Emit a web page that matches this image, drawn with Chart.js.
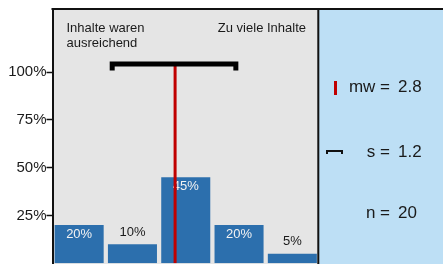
<!DOCTYPE html>
<html>
<head>
<meta charset="utf-8">
<script src="https://cdn.jsdelivr.net/npm/chart.js@4/dist/chart.umd.min.js"></script>
<style>
  body { margin: 0; background: #fff; }
  canvas { display: block; }
</style>
</head>
<body>
<canvas id="chart" width="443" height="264"></canvas>
<script>
// Antwortstufen 1..5, von "ausreichend" bis "zu viele Inhalte"
const categories = [1, 2, 3, 4, 5];
const shares = [20, 10, 45, 20, 5];      // Prozent
const yTicks = [25, 50, 75, 100];
const yMax = 133;

// Kennwerte
const meanValue = 2.8;
const sdSpan = [1.62, 3.94];             // Klammer mw ± s (aus dem Bild gelesen)
const bracketY = [100.8, 104.2];
const statLabels = ["mw =", "s =", "n ="];
const statValues = ["2.8", "1.2", "20"];
const leftLabel = ["Inhalte waren", "ausreichend"];
const rightLabel = "Zu viele Inhalte";

const FONT = "'Liberation Sans', Arial, sans-serif";

// Hintergrund: graue Plotfläche + blaues Kennwerte-Feld
const frame = {
  id: "frame",
  beforeDraw(chart) {
    const { ctx, chartArea: a, width, height } = chart;
    ctx.save();
    ctx.fillStyle = "#fff";
    ctx.fillRect(0, 0, width, height);
    ctx.fillStyle = "#e5e5e5";
    ctx.fillRect(a.left, a.top, a.right - a.left, height - a.top);
    ctx.fillStyle = "#bddff5";
    ctx.fillRect(a.right, a.top, width - a.right, height - a.top);
    ctx.restore();
  },
  afterDraw(chart) {
    const { ctx, chartArea: a, width, height } = chart;
    ctx.save();
    // Rahmen oben + Trennlinie zum Feld
    ctx.strokeStyle = "#111";
    ctx.lineWidth = 2;
    ctx.beginPath();
    ctx.moveTo(a.left - 1, a.top);
    ctx.lineTo(width, a.top);
    ctx.moveTo(a.right - 0.7, a.top);
    ctx.lineTo(a.right - 0.7, height);
    ctx.stroke();

    // Skalenbeschriftung
    ctx.fillStyle = "#1a1a1a";
    ctx.font = "13px " + FONT;
    ctx.textBaseline = "middle";
    ctx.textAlign = "left";
    ctx.fillText(leftLabel[0], a.left + 14, a.top + 19);
    ctx.fillText(leftLabel[1], a.left + 14, a.top + 34);
    ctx.textAlign = "right";
    ctx.fillText(rightLabel, a.right - 13, a.top + 19);

    // Kennwerte
    const rows = [87, 152, 213];
    ctx.font = "17px " + FONT;
    rows.forEach((y, i) => {
      ctx.textAlign = "right";
      ctx.fillText(statLabels[i], a.right + 71, y);
      ctx.textAlign = "left";
      ctx.fillText(statValues[i], a.right + 79, y);
    });

    // Legendensymbole
    ctx.strokeStyle = "#c00000";
    ctx.lineWidth = 3;
    ctx.beginPath();
    ctx.moveTo(a.right + 16.5, 81);
    ctx.lineTo(a.right + 16.5, 95);
    ctx.stroke();
    ctx.strokeStyle = "#111";
    ctx.lineWidth = 2;
    ctx.beginPath();
    ctx.moveTo(a.right + 8, 154);
    ctx.lineTo(a.right + 8, 151);
    ctx.lineTo(a.right + 23, 151);
    ctx.lineTo(a.right + 23, 154);
    ctx.stroke();
    ctx.restore();
  }
};

// Prozentwerte an den Balken
const barLabels = {
  id: "barLabels",
  afterDatasetDraw(chart, args) {
    if (args.index !== 0) return;
    const ctx = chart.ctx;
    ctx.save();
    ctx.font = "13px " + FONT;
    ctx.textAlign = "center";
    ctx.textBaseline = "middle";
    args.meta.data.forEach((bar, i) => {
      const inside = shares[i] >= 15;
      ctx.fillStyle = inside ? "#f2f2f2" : "#1a1a1a";
      ctx.fillText(shares[i] + "%", bar.x, inside ? bar.y + 9 : bar.y - 12);
    });
    ctx.restore();
  }
};

new Chart(document.getElementById("chart"), {
  type: "bar",
  data: {
    datasets: [
      {
        data: categories.map((c, i) => ({ x: c, y: shares[i] })),
        backgroundColor: "#2c6fad",
        grouped: false,
        barPercentage: 0.92,
        categoryPercentage: 1.0,
        order: 3
      },
      {
        type: "line",
        data: [{ x: meanValue, y: 0 }, { x: meanValue, y: bracketY[1] }],
        borderColor: "#c00000",
        borderWidth: 3,
        pointRadius: 0,
        order: 2
      },
      {
        type: "line",
        data: [
          { x: sdSpan[0], y: bracketY[0] },
          { x: sdSpan[0], y: bracketY[1] },
          { x: sdSpan[1], y: bracketY[1] },
          { x: sdSpan[1], y: bracketY[0] }
        ],
        borderColor: "#000",
        borderWidth: 5,
        borderJoinStyle: "miter",
        borderCapStyle: "butt",
        pointRadius: 0,
        order: 1
      }
    ]
  },
  options: {
    responsive: false,
    animation: false,
    layout: { padding: { top: 9, right: 124, bottom: -1, left: 0 } },
    plugins: {
      legend: { display: false },
      tooltip: { enabled: false }
    },
    scales: {
      x: {
        type: "linear",
        display: false,
        bounds: "data",
        offset: false,
        min: 0.5,
        max: 5.5
      },
      y: {
        min: 0,
        max: yMax,
        afterFit: s => { s.width = 52.5; },
        afterBuildTicks: s => { s.ticks = yTicks.map(v => ({ value: v })); },
        border: { color: "#111", width: 2 },
        grid: {
          drawOnChartArea: false,
          tickLength: 6,
          tickWidth: 1.5,
          tickColor: "#111"
        },
        ticks: {
          padding: 0,
          color: "#1a1a1a",
          font: { family: FONT, size: 15, lineHeight: 0.1 },
          callback: v => v + "%"
        }
      }
    }
  },
  plugins: [frame, barLabels]
});
</script>
</body>
</html>
